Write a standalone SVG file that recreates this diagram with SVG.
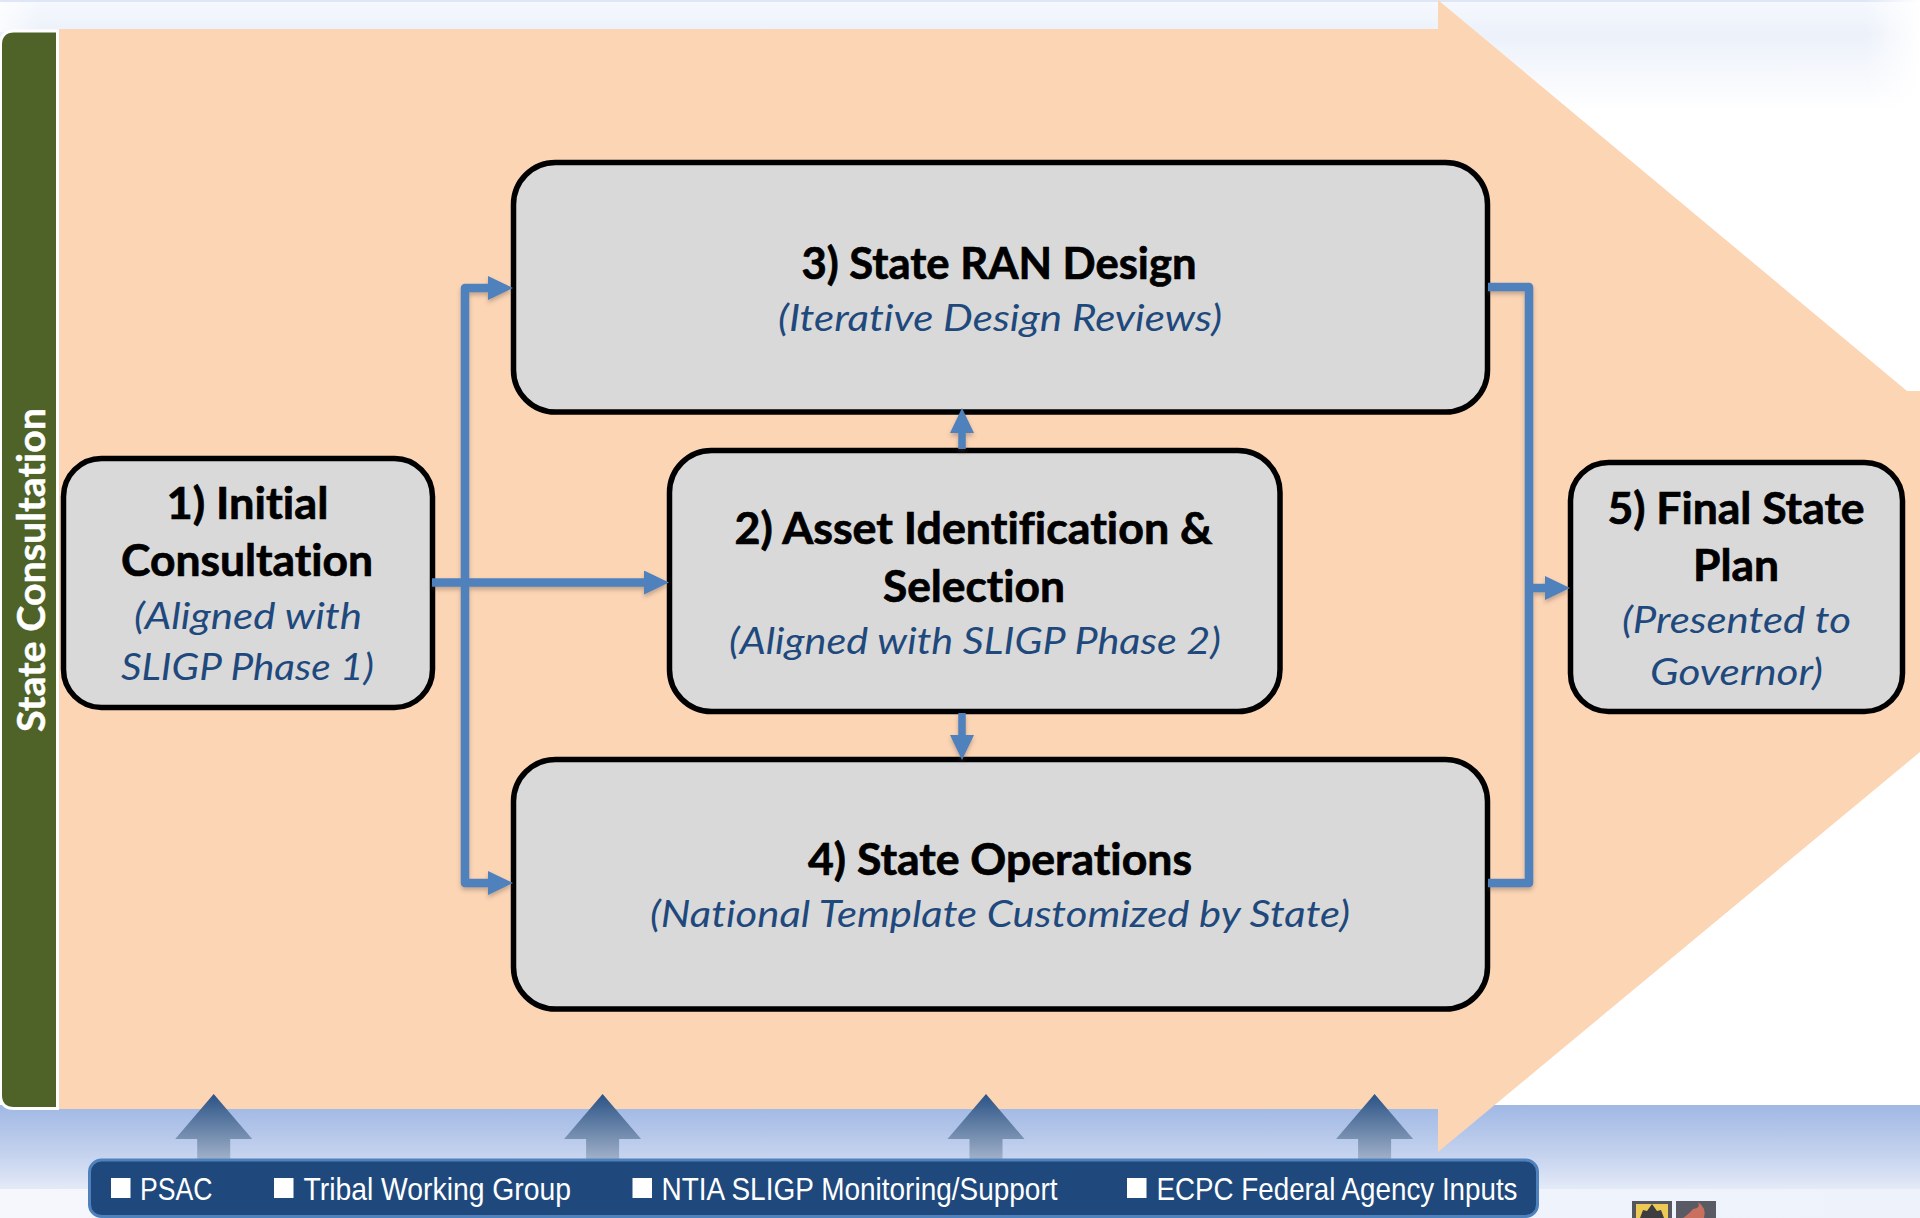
<svg xmlns="http://www.w3.org/2000/svg" width="1920" height="1218" viewBox="0 0 1920 1218">
<style>
text{font-variant-ligatures:none}
.box{fill:#d9d9d9;stroke:#000;stroke-width:5.5}
.h{font-family:Lato,"Liberation Sans",sans-serif;font-weight:700;font-size:44px;fill:#000;stroke:#000;stroke-width:.7;text-anchor:middle}
.s{font-family:Lato,"Liberation Sans",sans-serif;font-style:italic;font-size:37px;fill:#1f497d;text-anchor:middle}
.b{font-family:"Liberation Sans",Arial,sans-serif;font-size:32px;fill:#fff}
.c{fill:none;stroke:#4f81bd;stroke-width:8.500;stroke-linejoin:round}
.up{fill:url(#upg)}
.sq{fill:#fff}
</style>
<defs>
<linearGradient id="top" x1="0" y1="0" x2="0" y2="1"><stop offset="0" stop-color="#f6f9fe"/><stop offset=".3" stop-color="#ecf1fa"/><stop offset=".55" stop-color="#f3f6fc"/><stop offset="1" stop-color="#fff"/></linearGradient>
<linearGradient id="rf" x1="0" y1="0" x2="1" y2="0"><stop offset="0" stop-color="#fff" stop-opacity="0"/><stop offset="1" stop-color="#fff"/></linearGradient>
<linearGradient id="lf" x1="0" y1="0" x2="1" y2="0"><stop offset="0" stop-color="#fff"/><stop offset="1" stop-color="#fff" stop-opacity="0"/></linearGradient>
<linearGradient id="band" x1="0" y1="0" x2="0" y2="1"><stop offset="0" stop-color="#a0b8e4"/><stop offset=".6" stop-color="#c5d3ee"/><stop offset="1" stop-color="#e4eaf7"/></linearGradient>
<linearGradient id="upg" x1="0" y1="0" x2="0" y2="1"><stop offset="0" stop-color="#2a5386"/><stop offset=".7" stop-color="#7d94b4"/><stop offset="1" stop-color="#a2b2ca"/></linearGradient>
<linearGradient id="flo" x1="0" y1="0" x2="1" y2="0"><stop offset="0" stop-color="#f5f7fd"/><stop offset="1" stop-color="#eef2fb"/></linearGradient>
<marker id="ah" markerUnits="userSpaceOnUse" markerWidth="27" markerHeight="24" refX="1" refY="12" orient="auto"><path d="M0 0L25 12L0 24Z" fill="#4f81bd"/></marker>
<filter id="sh" x="-10%" y="-10%" width="120%" height="120%"><feDropShadow dx="0" dy="3" stdDeviation="2" flood-color="#5a4a3a" flood-opacity=".35"/></filter>
</defs>

<rect width="1920" height="1218" fill="#fff"/>
<g id="background">
<rect width="1920" height="112" fill="url(#top)"/>
<rect width="1920" height="2" fill="#dfe7f6"/>
<rect x="1865" width="55" height="112" fill="url(#rf)"/>
<rect width="40" y="2" height="30" fill="url(#lf)" opacity=".7"/>
<rect y="1189" width="1920" height="29" fill="url(#flo)"/>
<rect y="1105" width="1920" height="84" fill="url(#band)"/>
</g>

<g id="process-arrow"><path d="M59 29H1438V0L1907 391H1920V752L1438 1152V1109H59Z" fill="#fcd5b5"/></g>

<g id="state-consultation">
<path d="M.5 45Q.5 31 14 31H57.500V1108.500H14Q.5 1108.500 .5 1095Z" fill="#4f6228" stroke="#fff" stroke-width="3"/>
<text transform="translate(45 570) rotate(-90)" font-family="Lato,'Liberation Sans',sans-serif" font-weight="700" font-size="39" fill="#fff" stroke="#fff" stroke-width=".5" text-anchor="middle" textLength="324" lengthAdjust="spacingAndGlyphs">State Consultation</text>
</g>

<g id="node-1">
<rect class="box" x="63.500" y="458.500" width="369" height="249" rx="38"/>
<text class="h" x="247.500" y="519" textLength="162" lengthAdjust="spacingAndGlyphs">1) Initial</text>
<text class="h" x="247" y="576" textLength="252" lengthAdjust="spacingAndGlyphs">Consultation</text>
<text class="s" x="248" y="629" textLength="228" lengthAdjust="spacingAndGlyphs">(Aligned with</text>
<text class="s" x="247.500" y="680" textLength="253" lengthAdjust="spacingAndGlyphs">SLIGP Phase 1)</text>
</g>
<g id="node-3">
<rect class="box" x="513.500" y="162.500" width="974" height="249.500" rx="42"/>
<text class="h" x="999" y="279" textLength="395" lengthAdjust="spacingAndGlyphs">3) State RAN Design</text>
<text class="s" x="1000" y="331" textLength="444" lengthAdjust="spacingAndGlyphs">(Iterative Design Reviews)</text>
</g>
<g id="node-2">
<rect class="box" x="669.500" y="450.500" width="610.500" height="261" rx="42"/>
<text class="h" x="973.500" y="544" textLength="478" lengthAdjust="spacingAndGlyphs">2) Asset Identification &amp;</text>
<text class="h" x="974" y="602" textLength="182" lengthAdjust="spacingAndGlyphs">Selection</text>
<text class="s" x="975" y="654" textLength="492" lengthAdjust="spacingAndGlyphs">(Aligned with SLIGP Phase 2)</text>
</g>
<g id="node-4">
<rect class="box" x="513.500" y="759.500" width="974" height="249.500" rx="42"/>
<text class="h" x="1000" y="875" textLength="384" lengthAdjust="spacingAndGlyphs">4) State Operations</text>
<text class="s" x="1000" y="927" textLength="700" lengthAdjust="spacingAndGlyphs">(National Template Customized by State)</text>
</g>
<g id="node-5">
<rect class="box" x="1570.500" y="462.500" width="332" height="249" rx="38"/>
<text class="h" x="1736" y="524" textLength="257" lengthAdjust="spacingAndGlyphs">5) Final State</text>
<text class="h" x="1736" y="581" textLength="86" lengthAdjust="spacingAndGlyphs">Plan</text>
<text class="s" x="1736.500" y="633" textLength="229" lengthAdjust="spacingAndGlyphs">(Presented to</text>
<text class="s" x="1736.500" y="685" textLength="173" lengthAdjust="spacingAndGlyphs">Governor)</text>
</g>

<g id="connectors" filter="url(#sh)">
<path class="c" d="M465 582V288H489" marker-end="url(#ah)"/>
<path class="c" d="M465 582V883H489" marker-end="url(#ah)"/>
<path class="c" d="M432 582.500H645" marker-end="url(#ah)"/>
<path class="c" style="stroke-width:7.500" d="M962 449V432" marker-end="url(#ah)"/>
<path class="c" style="stroke-width:7.500" d="M962 713V736" marker-end="url(#ah)"/>
<path class="c" d="M1488 287H1529V883H1488"/>
<path class="c" d="M1529 588H1546" marker-end="url(#ah)"/>
</g>

<g id="input-arrows">
<path class="up" d="M213.700 1094L252.200 1139H230.200V1160H197.200V1139H175.200Z"/>
<path class="up" d="M602.600 1094L641.100 1139H619.100V1160H586.100V1139H564.100Z"/>
<path class="up" d="M986 1094L1024.500 1139H1002.500V1160H969.500V1139H947.500Z"/>
<path class="up" d="M1374.600 1094L1413.100 1139H1391.100V1160H1358.100V1139H1336.100Z"/>
</g>

<g id="inputs-bar">
<rect x="89.500" y="1160" width="1448" height="56.500" rx="12" fill="#1f497d" stroke="#4f81bd" stroke-width="3"/>
<rect class="sq" x="111" y="1178" width="19.500" height="20"/>
<text class="b" x="140" y="1199.500" textLength="72.500" lengthAdjust="spacingAndGlyphs">PSAC</text>
<rect class="sq" x="274" y="1178" width="19.500" height="20"/>
<text class="b" x="303.500" y="1199.500" textLength="267.500" lengthAdjust="spacingAndGlyphs">Tribal Working Group</text>
<rect class="sq" x="632.500" y="1178" width="19.500" height="20"/>
<text class="b" x="661.500" y="1199.500" textLength="396" lengthAdjust="spacingAndGlyphs">NTIA SLIGP Monitoring/Support</text>
<rect class="sq" x="1127" y="1178" width="19.500" height="20"/>
<text class="b" x="1156.500" y="1199.500" textLength="361" lengthAdjust="spacingAndGlyphs">ECPC Federal Agency Inputs</text>
</g>

<g id="icons">
<rect x="1632" y="1201" width="40" height="17" fill="#55565e"/>
<path d="M1636 1204H1668V1218H1636Z" fill="#ecca55"/>
<path d="M1640 1218L1643 1210L1647 1211L1652 1204L1657 1211L1661 1210L1664 1218Z" fill="#3d3d40"/>
<rect x="1676" y="1201" width="40" height="17" fill="#5a5a64"/>
<path d="M1683 1218Q1690 1213 1693 1209Q1701 1208 1698 1202Q1707 1208 1704 1218Z" fill="#c9705f"/>
</g>
</svg>
